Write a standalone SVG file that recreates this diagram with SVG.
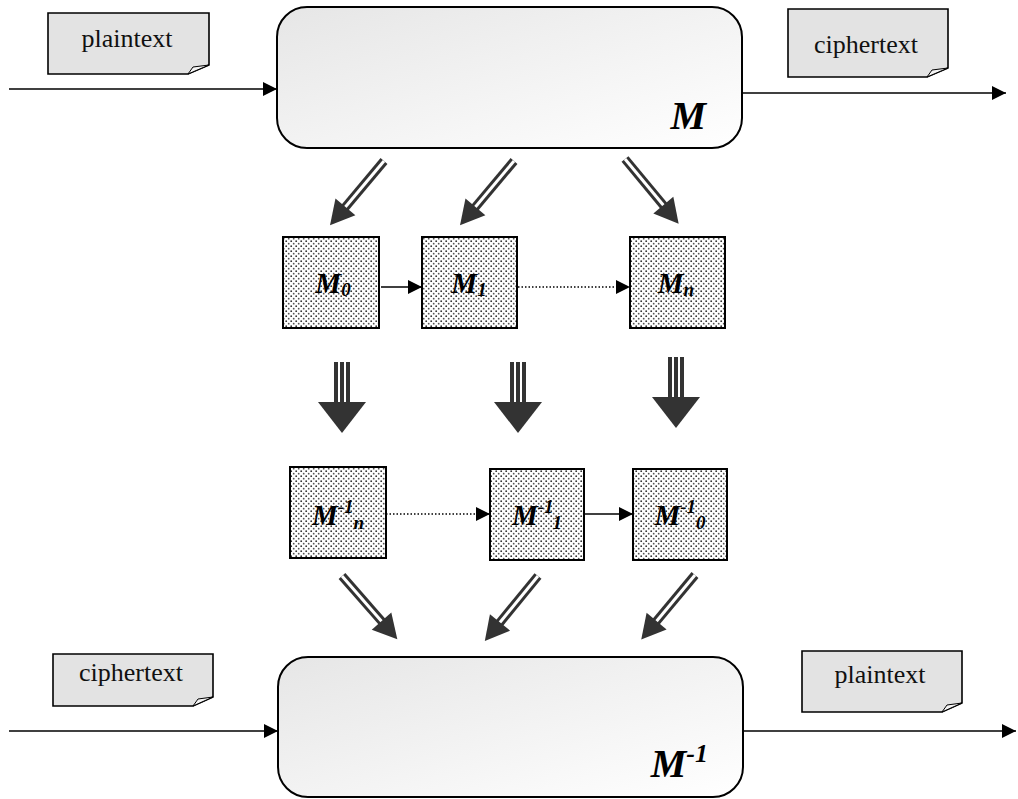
<svg xmlns="http://www.w3.org/2000/svg" xmlns:xlink="http://www.w3.org/1999/xlink" width="1018" height="799" viewBox="0 0 1018 799">
<style>
.note{fill:#e3e3e3;stroke:#000;stroke-width:1.6}
.fold{fill:#f4f4f4;stroke:#000;stroke-width:1}
.nt{font-family:"Liberation Serif",serif;font-size:26px;fill:#111}
.big{fill:url(#g);stroke:#000;stroke-width:2}
.sq{fill:url(#dots);stroke:#000;stroke-width:2}
.lab{font-family:"Liberation Serif",serif;font-weight:bold;font-style:italic;fill:#000}
.ln{stroke:#000;stroke-width:1.6;fill:none}
.dot{stroke:#000;stroke-width:1.4;stroke-dasharray:1.5 2;fill:none}
.ah{fill:#333}
</style>
<defs>
<linearGradient id="g" x1="0" y1="0" x2="1" y2="1">
<stop offset="0" stop-color="#e6e6e6"/>
<stop offset="1" stop-color="#ffffff"/>
</linearGradient>
<pattern id="dots" width="5" height="5" patternUnits="userSpaceOnUse">
<rect width="5" height="5" fill="#fff"/>
<circle cx="1.2" cy="1.2" r="0.9" fill="#333"/>
<circle cx="3.7" cy="3.7" r="0.9" fill="#555"/>
</pattern>
<marker id="arr2" markerWidth="14" markerHeight="14" refX="14" refY="7" orient="auto" markerUnits="userSpaceOnUse" viewBox="0 0 14 14">
<path d="M0,0 L14,7 L0,14 Z" fill="#000"/>
</marker>
<g id="dbl">
<line x1="0" y1="0" x2="66" y2="0" stroke="#333" stroke-width="9"/>
<line x1="0" y1="0" x2="66" y2="0" stroke="#fff" stroke-width="3"/>
<path d="M60,-13 L84,0 L60,13 Z" class="ah"/>
</g>
<g id="thick">
<rect x="-8" y="0" width="4" height="42" class="ah"/>
<rect x="-2" y="0" width="4" height="42" class="ah"/>
<rect x="4" y="0" width="4" height="42" class="ah"/>
<path d="M-24,40 L24,40 L0,71 Z" class="ah"/>
</g>
</defs>

<g id="connectors">
<line x1="9" y1="89" x2="277" y2="89" class="ln" marker-end="url(#arr2)"/>
<line x1="742" y1="93" x2="1006" y2="93" class="ln" marker-end="url(#arr2)"/>
<line x1="9" y1="731" x2="278" y2="731" class="ln" marker-end="url(#arr2)"/>
<line x1="743" y1="731" x2="1016" y2="731" class="ln" marker-end="url(#arr2)"/>
<line x1="381" y1="287" x2="422" y2="287" class="ln" marker-end="url(#arr2)"/>
<line x1="518" y1="287" x2="630" y2="287" class="dot" marker-end="url(#arr2)"/>
<line x1="386" y1="514" x2="490" y2="514" class="dot" marker-end="url(#arr2)"/>
<line x1="585" y1="514" x2="633" y2="514" class="ln" marker-end="url(#arr2)"/>
<use xlink:href="#dbl" transform="translate(384,161) rotate(130)"/>
<use xlink:href="#dbl" transform="translate(514,161) rotate(130)"/>
<use xlink:href="#dbl" transform="translate(625,159) rotate(50.3)"/>
<use xlink:href="#thick" transform="translate(342,362)"/>
<use xlink:href="#thick" transform="translate(518,362)"/>
<use xlink:href="#thick" transform="translate(676,357)"/>
<use xlink:href="#dbl" transform="translate(342,576) rotate(48.8)"/>
<use xlink:href="#dbl" transform="translate(538,576) rotate(129.3)"/>
<use xlink:href="#dbl" transform="translate(695,575) rotate(129.8)"/>
</g>

<g id="note-plain-top">
<path d="M48,13 H209 V65 L188,74 H48 Z" class="note"/>
<path d="M188,74 L193,67 L209,65 Z" class="fold"/>
<text x="127" y="47" text-anchor="middle" class="nt">plaintext</text>
</g>
<g id="note-cipher-top">
<path d="M788,9 H948 V68 L927,77 H788 Z" class="note"/>
<path d="M927,77 L932,70 L948,68 Z" class="fold"/>
<text x="866" y="53" text-anchor="middle" class="nt">ciphertext</text>
</g>
<g id="M">
<rect x="277" y="7" width="465" height="141" rx="30" class="big"/>
<text x="706" y="129" text-anchor="end" class="lab" font-size="40">M</text>
</g>
<g id="M0">
<rect x="283" y="237" width="96" height="91" class="sq"/>
<text x="333" y="293" text-anchor="middle" class="lab" font-size="29">M<tspan font-size="19" dy="3">0</tspan></text>
</g>
<g id="M1">
<rect x="422" y="237" width="95" height="91" class="sq"/>
<text x="469" y="293" text-anchor="middle" class="lab" font-size="29">M<tspan font-size="19" dy="3">1</tspan></text>
</g>
<g id="Mn">
<rect x="630" y="237" width="95" height="91" class="sq"/>
<text x="676" y="293" text-anchor="middle" class="lab" font-size="29">M<tspan font-size="19" dy="3">n</tspan></text>
</g>
<g id="Minv-n">
<rect x="290" y="467" width="96" height="91" class="sq"/>
<text x="338" y="525" text-anchor="middle" class="lab" font-size="29">M<tspan font-size="19" dy="-12">-1</tspan><tspan font-size="19" dy="16">n</tspan></text>
</g>
<g id="Minv-1">
<rect x="490" y="469" width="94" height="91" class="sq"/>
<text x="537" y="525" text-anchor="middle" class="lab" font-size="29">M<tspan font-size="19" dy="-12">-1</tspan><tspan font-size="19" dy="16">1</tspan></text>
</g>
<g id="Minv-0">
<rect x="633" y="469" width="94" height="91" class="sq"/>
<text x="680" y="525" text-anchor="middle" class="lab" font-size="29">M<tspan font-size="19" dy="-12">-1</tspan><tspan font-size="19" dy="16">0</tspan></text>
</g>
<g id="Minv">
<rect x="278" y="657" width="465" height="140" rx="30" class="big"/>
<text x="708" y="777" text-anchor="end" class="lab" font-size="40">M<tspan font-size="26" dy="-15">-1</tspan></text>
</g>
<g id="note-cipher-bottom">
<path d="M53,654 H213 V697 L193,706 H53 Z" class="note"/>
<path d="M193,706 L198,699 L213,697 Z" class="fold"/>
<text x="131" y="681" text-anchor="middle" class="nt">ciphertext</text>
</g>
<g id="note-plain-bottom">
<path d="M802,651 H962 V703 L942,712 H802 Z" class="note"/>
<path d="M942,712 L947,705 L962,703 Z" class="fold"/>
<text x="880" y="683" text-anchor="middle" class="nt">plaintext</text>
</g>
</svg>
